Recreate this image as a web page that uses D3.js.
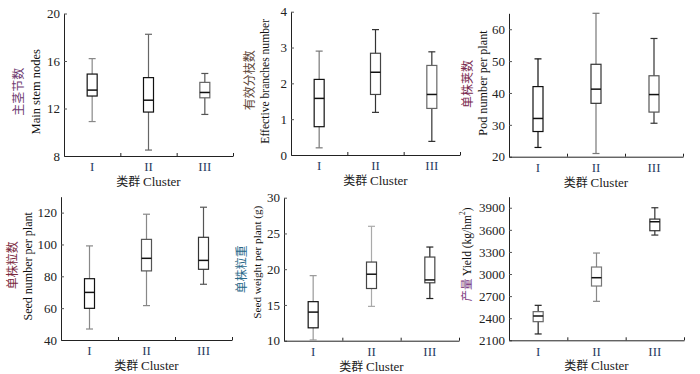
<!DOCTYPE html>
<html>
<head>
<meta charset="utf-8">
<script src="https://cdn.jsdelivr.net/npm/d3@7"></script>
<style>
  body { margin: 0; background: #fff; }
  svg { display: block; }
  text { font-family: "Liberation Serif", "Times New Roman", serif; }
  .zh { font-family: "Noto Sans CJK SC", sans-serif; }
</style>
</head>
<body>
<svg id="chart" width="700" height="374"></svg>
<script>
const clusters = ["I", "II", "III"];

// each row: [lower whisker, Q1, median, Q3, upper whisker] for clusters I, II, III
const stemNodes   = [[10.9, 13.05, 13.55, 14.9, 16.2], [8.5, 11.7, 12.7, 14.6, 18.25], [11.5, 12.9, 13.35, 14.2, 14.95]];
const branches    = [[0.2, 0.79, 1.58, 2.11, 2.9], [1.19, 1.69, 2.31, 2.84, 3.5], [0.38, 1.3, 1.69, 2.5, 2.88]];
const podNumber   = [[22.9, 27.9, 32.0, 42.0, 50.7], [21.0, 36.75, 41.2, 49.0, 65.0], [30.5, 34.0, 39.5, 45.4, 57.1]];
const seedNumber  = [[46.9, 59.9, 69.9, 78.5, 99.1], [61.6, 83.4, 91.3, 103.2, 119.0], [75.0, 84.4, 90.0, 104.5, 123.4]];
const seedWeight  = [[10.1, 11.8, 14.0, 15.46, 19.1], [14.8, 17.3, 19.3, 21.0, 26.0], [15.9, 18.1, 18.5, 21.7, 23.1]];
const yieldKg     = [[2186, 2353, 2430, 2489, 2575], [2629, 2837, 2950, 3095, 3285], [3529, 3588, 3710, 3746, 3900]];

const stemTicks   = [8, 12, 16, 20];
const branchTicks = [0, 1, 2, 3, 4];
const podTicks    = [20, 30, 40, 50, 60];
const seedNTicks  = [40, 60, 80, 100, 120];
const seedWTicks  = [10, 15, 20, 25, 30];
const yieldTicks  = [2100, 2400, 2700, 3000, 3300, 3600, 3900];

const panels = [
  { data: stemNodes, domain: [8, 20], ticks: stemTicks, zh: "主茎节数", en: "Main stem nodes",
    x0: 64, x1: 233, y0: 13.5, y1: 156, zhColor: "#6e3a70", zhDx: -44, enDx: -27,
    zhShift: 7, enShift: 7, enSize: 12.5,
    tones: [["#888", "#111"], ["#666", "#111"], ["#555", "#666"]] },
  { data: branches, domain: [0, 4], ticks: branchTicks, zh: "有效分枝数", en: "Effective branches number",
    x0: 291, x1: 460, y0: 11.7, y1: 155, zhColor: "#5e4638", zhDx: -40, enDx: -25,
    zhShift: -3, enShift: -2, enSize: 11.6,
    tones: [["#777", "#111"], ["#333", "#444"], ["#333", "#666"]] },
  { data: podNumber, domain: [20, 65], ticks: podTicks, zh: "单株荚数", en: "Pod number per plant",
    x0: 509, x1: 683, y0: 13.3, y1: 156.7, zhColor: "#7a2a4e", zhDx: -40, enDx: -25,
    zhShift: -1, enShift: -2, enSize: 12.2,
    tones: [["#111", "#111"], ["#777", "#333"], ["#333", "#555"]] },
  { data: seedNumber, domain: [40, 130], ticks: seedNTicks, zh: "单株粒数", en: "Seed number per plant",
    x0: 61, x1: 232, y0: 196.7, y1: 340, zhColor: "#7a2a3e", zhDx: -47, enDx: -32,
    zhShift: -3, enShift: -2, enSize: 12,
    tones: [["#888", "#111"], ["#888", "#555"], ["#555", "#333"]] },
  { data: seedWeight, domain: [10, 30], ticks: seedWTicks, zh: "单株粒重", en: "Seed weight per plant (g)",
    x0: 284, x1: 459, y0: 197.7, y1: 340.7, zhColor: "#2a6a8a", zhDx: -41, enDx: -26,
    zhShift: 0, enShift: -7, enSize: 11.2,
    tones: [["#999", "#111"], ["#aaa", "#444"], ["#222", "#444"]] },
  { data: yieldKg, domain: [2100, 4050], ticks: yieldTicks, zh: "产量", en: "Yield (kg/hm",
    x0: 509, x1: 684, y0: 196.7, y1: 340.3, zhColor: "#7a3a80", zhDx: -41, enDx: null,
    zhShift: -14, enShift: -14, enSize: 11.5,
    tones: [["#222", "#666"], ["#888", "#777"], ["#333", "#333"]] }
];

const svg = d3.select("#chart");
svg.append("rect").attr("width", 700).attr("height", 374).attr("fill", "#fff");

panels.forEach(p => {
  const g = svg.append("g");

  const y = d3.scaleLinear().domain(p.domain).range([p.y1, p.y0]);
  const x = d3.scaleBand().domain(clusters).range([p.x0, p.x1]).paddingInner(0);
  const bounds = d3.scaleLinear().domain([0, clusters.length]).range([p.x0, p.x1]);

  // y axis, ticks pointing inward
  const yAxis = g.append("g")
    .attr("transform", `translate(${p.x0},0)`)
    .call(d3.axisLeft(y).tickValues(p.ticks).tickFormat(d3.format("d"))
      .tickSizeInner(-3).tickSizeOuter(0).tickPadding(4));
  yAxis.select(".domain").attr("stroke", "#222");
  yAxis.selectAll(".tick line").attr("stroke", "#555");
  yAxis.selectAll(".tick text").attr("font-size", 13).attr("fill", "#222")
    .attr("font-family", "Liberation Serif, serif");

  // x axis line with small inward ticks between clusters
  const xAxis = g.append("g")
    .attr("transform", `translate(0,${p.y1})`)
    .call(d3.axisBottom(bounds).tickValues([1, 2, 3]).tickSizeInner(-3).tickSizeOuter(0).tickFormat(""));
  xAxis.select(".domain").attr("stroke", "#222");
  xAxis.selectAll(".tick line").attr("stroke", "#222");

  // cluster labels
  const lab = g.append("g")
    .attr("transform", `translate(0,${p.y1})`)
    .call(d3.axisBottom(x).tickSize(0).tickPadding(6));
  lab.select(".domain").remove();
  lab.selectAll(".tick text").attr("font-size", 13).attr("fill", "#2a3c62")
    .attr("font-family", "Liberation Serif, serif");

  // x title
  const xt = g.append("text")
    .attr("x", x("II") + x.bandwidth() / 2)
    .attr("y", p.y1 + 30)
    .attr("text-anchor", "middle")
    .attr("font-size", 13)
    .attr("fill", "#222");
  xt.append("tspan").attr("class", "zh").attr("font-size", 12).text("类群 ");
  xt.append("tspan").text("Cluster");

  // y title
  const cy = (p.y0 + p.y1) / 2;
  if (p.enDx !== null) {
    g.append("text").attr("class", "zh")
      .attr("transform", `translate(${p.x0 + p.zhDx},${cy + p.zhShift}) rotate(-90)`)
      .attr("text-anchor", "middle").attr("dominant-baseline", "middle")
      .attr("font-size", 12).attr("fill", p.zhColor).text(p.zh);
    g.append("text")
      .attr("transform", `translate(${p.x0 + p.enDx},${cy + p.enShift}) rotate(-90)`)
      .attr("text-anchor", "middle").attr("dominant-baseline", "middle")
      .attr("font-size", p.enSize).attr("fill", "#111").text(p.en);
  } else {
    const t = g.append("text")
      .attr("transform", `translate(${p.x0 + p.zhDx},${cy + p.zhShift}) rotate(-90)`)
      .attr("text-anchor", "middle").attr("dominant-baseline", "middle")
      .attr("font-size", p.enSize).attr("fill", "#111");
    t.append("tspan").attr("class", "zh").attr("font-size", 11.5).attr("fill", p.zhColor).text(p.zh + " ");
    t.append("tspan").text(p.en);
    t.append("tspan").attr("font-size", 7.5).attr("dy", -5).text("2");
    t.append("tspan").attr("dy", 5).text(")");
  }

  // boxes
  const boxW = 10, capW = 7;
  const b = g.selectAll(".box").data(p.data).enter().append("g").attr("class", "box");
  const cx = (d, i) => x(clusters[i]) + x.bandwidth() / 2;

  b.append("line")
    .attr("x1", cx).attr("x2", cx)
    .attr("y1", d => y(d[4])).attr("y2", d => y(d[0]))
    .attr("stroke", (d, i) => p.tones[i][0]).attr("stroke-width", 1.2);
  [0, 4].forEach(k => {
    b.append("line")
      .attr("x1", (d, i) => cx(d, i) - capW / 2).attr("x2", (d, i) => cx(d, i) + capW / 2)
      .attr("y1", d => y(d[k])).attr("y2", d => y(d[k]))
      .attr("stroke", (d, i) => p.tones[i][0]).attr("stroke-width", 1.2);
  });
  b.append("rect")
    .attr("x", (d, i) => cx(d, i) - boxW / 2)
    .attr("y", d => y(d[3]))
    .attr("width", boxW)
    .attr("height", d => y(d[1]) - y(d[3]))
    .attr("fill", "#fff")
    .attr("stroke", (d, i) => p.tones[i][1]).attr("stroke-width", 1.2);
  b.append("line")
    .attr("x1", (d, i) => cx(d, i) - boxW / 2).attr("x2", (d, i) => cx(d, i) + boxW / 2)
    .attr("y1", d => y(d[2])).attr("y2", d => y(d[2]))
    .attr("stroke", "#111").attr("stroke-width", 1.5);
});
</script>
</body>
</html>
